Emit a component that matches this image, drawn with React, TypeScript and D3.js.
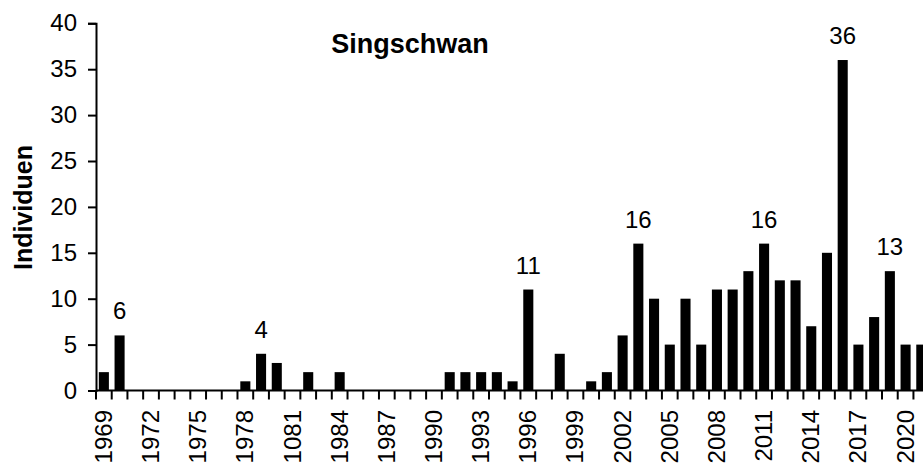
import { useEffect, useRef } from "react";
import * as d3 from "d3";

const years = d3.range(1969, 2022);
const counts = [
  2, 6, 0, 0, 0, 0, 0, 0, 0, 1, 4, 3, 0, 2, 0, 2, 0, 0, 0, 0, 0, 0, 2, 2, 2, 2,
  1, 11, 0, 4, 0, 1, 2, 6, 16, 10, 5, 10, 5, 11, 11, 13, 16, 12, 12, 7, 15, 36,
  5, 8, 13, 5, 5,
];
const tickLabels = [
  "1969", "1972", "1975", "1978", "1081", "1984", "1987", "1990", "1993",
  "1996", "1999", "2002", "2005", "2008", "2011", "2014", "2017", "2020",
];
const labelledYears = [1970, 1979, 1996, 2003, 2011, 2016, 2019];
const yTicks = [0, 5, 10, 15, 20, 25, 30, 35, 40];

const W = 923;
const H = 464;
const FONT = "'Liberation Sans', Arial, sans-serif";

export default function App() {
  const svgRef = useRef<SVGSVGElement | null>(null);

  useEffect(() => {
    const svg = svgRef.current;
    if (!svg) return;
    svg.innerHTML = "";
    const root = d3.select(svg);

    const left = 96;
    const step = 15.72;
    const x = d3
      .scaleBand<number>()
      .domain(years)
      .range([left, left + years.length * step])
      .paddingInner(0.36)
      .paddingOuter(0.18);
    const y = d3.scaleLinear().domain([0, 40]).range([390.5, 23.3]);
    const gap = (x.step() - x.bandwidth()) / 2;

    // bars
    root
      .append("g")
      .selectAll("rect")
      .data(years)
      .join("rect")
      .attr("x", (d) => x(d)!)
      .attr("width", x.bandwidth())
      .attr("y", (d, i) => y(counts[i]))
      .attr("height", (d, i) => y(0) - y(counts[i]))
      .attr("fill", "#000");

    // y axis
    const yAxis = root
      .append("g")
      .attr("transform", `translate(${left},0)`)
      .call(d3.axisLeft(y).tickValues(yTicks).tickSizeOuter(0).tickSize(8).tickPadding(11));
    yAxis.select(".domain").attr("stroke", "#000").attr("stroke-width", 2);
    yAxis.selectAll(".tick line").attr("stroke", "#000").attr("stroke-width", 2);
    yAxis
      .selectAll(".tick text")
      .attr("font-family", FONT)
      .attr("font-size", 24)
      .attr("fill", "#000");

    // x axis line + category ticks
    const g = root.append("g");
    g.append("line")
      .attr("x1", left)
      .attr("x2", W + 10)
      .attr("y1", y(0))
      .attr("y2", y(0))
      .attr("stroke", "#000")
      .attr("stroke-width", 2);
    g.selectAll("line.tk")
      .data(years)
      .join("line")
      .attr("class", "tk")
      .attr("x1", (d) => x(d)! - gap)
      .attr("x2", (d) => x(d)! - gap)
      .attr("y1", y(0))
      .attr("y2", y(0) + 9)
      .attr("stroke", "#000")
      .attr("stroke-width", 2);

    g.selectAll("text.xl")
      .data(tickLabels)
      .join("text")
      .attr("class", "xl")
      .attr("transform", (d, i) => {
        const cx = x(years[i * 3])! + x.bandwidth() / 2 + 8;
        return `translate(${cx},410) rotate(-90)`;
      })
      .attr("text-anchor", "end")
      .attr("font-family", FONT)
      .attr("font-size", 24)
      .text((d) => d);

    // value labels
    root
      .append("g")
      .selectAll("text")
      .data(labelledYears)
      .join("text")
      .attr("x", (d) => x(d)! + x.bandwidth() / 2)
      .attr("y", (d) => y(counts[years.indexOf(d)]) - 16)
      .attr("text-anchor", "middle")
      .attr("font-family", FONT)
      .attr("font-size", 24)
      .text((d) => counts[years.indexOf(d)]);

    root
      .append("text")
      .attr("x", 410)
      .attr("y", 53)
      .attr("text-anchor", "middle")
      .attr("font-family", FONT)
      .attr("font-weight", "bold")
      .attr("font-size", 27)
      .text("Singschwan");

    root
      .append("text")
      .attr("transform", "translate(31.5,207.5) rotate(-90)")
      .attr("text-anchor", "middle")
      .attr("font-family", FONT)
      .attr("font-weight", "bold")
      .attr("font-size", 25)
      .text("Individuen");
  }, []);

  return (
    <svg
      ref={svgRef}
      width={W}
      height={H}
      style={{ position: "absolute", left: 0, top: 0, background: "#fff" }}
    />
  );
}
